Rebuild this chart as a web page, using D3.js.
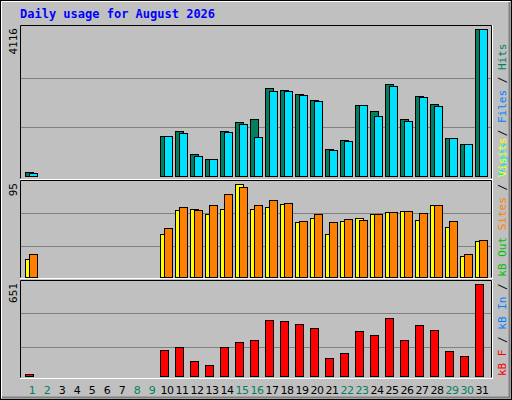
<!DOCTYPE html>
<html><head><meta charset="utf-8">
<script src="https://cdn.jsdelivr.net/npm/d3@7"></script>
<style>body{margin:0;background:#fff}svg{display:block}</style>
</head><body><svg id="c" width="512" height="400"></svg>
<script>
const days = d3.range(1, 32);
const weekend = [1,2,8,9,15,16,22,23,29,30];
const hits  = [112,0,0,0,0,0,0,0,0,1120,1260,616,476,1260,1512,1596,2464,2408,2296,2128,756,1008,1988,1820,2576,1596,2240,2016,1064,896,4116];
const files = [84,0,0,0,0,0,0,0,0,1120,1204,560,476,1222,1456,1092,2380,2380,2268,2100,728,980,1988,1680,2520,1540,2212,1960,1064,896,4116];
const visits= [18,0,0,0,0,0,0,0,0,44,68,69,64,69,95,69,72,75,56,60,44,57,60,64,66,67,58,74,51,21,37];
const sites = [24,0,0,0,0,0,0,0,0,50,71,68,74,85,92,74,79,76,57,64,56,59,58,64,66,67,65,74,57,23,38];
const kbytes= [17,0,0,0,0,0,0,0,0,181,202,103,81,202,238,252,395,387,366,338,124,160,316,288,409,252,359,323,174,145,651];

const svg = d3.select("#c");
const F = "'DejaVu Sans Mono', monospace";
// frame
svg.append("rect").attr("x",0.5).attr("y",0.5).attr("width",511).attr("height",399).attr("fill","#c0c0c0").attr("stroke","#000");
svg.append("path").attr("d","M1.5,398V1.5H510").attr("stroke","#fff").attr("fill","none");
svg.append("path").attr("d","M2,397.5H509.5V2").attr("stroke","#808080").attr("stroke-width",2).attr("fill","none");

svg.append("text").attr("x",20).attr("y",18).attr("fill","#0000ff").attr("font-family",F).attr("font-weight","bold").attr("font-size",12).text("Daily usage for August 2026");

const x = d3.scaleLinear().domain([1,31]).range([25,475]);
const panels = [
  {top:25, bot:179, base:176, ytop:29, max:4116, series:[[hits,"#008060",0],[files,"#00e0ff",4]], grids:[0.333,0.667]},
  {top:180, bot:278, base:277, ytop:184, max:95, series:[[visits,"#ffff00",0],[sites,"#ff8000",4]], grids:[0.33,0.686]},
  {top:280, bot:378, base:376, ytop:284, max:651, series:[[kbytes,"#ff0000",0]], grids:[0.32,0.68]}
];
panels.forEach(p=>{
  const y = d3.scaleLinear().domain([0,p.max]).range([p.base,p.ytop]);
  const g = svg.append("g");
  g.append("path").attr("d",`M20.5,${p.bot-0.5}V${p.top+0.5}H491.5V${p.bot-0.5}`).attr("fill","none").attr("stroke","#000");
  g.append("path").attr("d",`M20,${p.bot+0.5}H493M492.5,${p.top}V${p.bot+1}`).attr("stroke","#fff");
  p.grids.forEach(f=>{
    const gy = Math.round(y(p.max*f))+0.5;
    g.append("line").attr("x1",21).attr("x2",491).attr("y1",gy).attr("y2",gy).attr("stroke","#808080");
  });
  p.series.forEach(([vals,col,off])=>{
    g.selectAll(null).data(days.filter(d=>vals[d-1]>0)).enter().append("rect")
      .attr("x",d=>x(d)+off+0.5).attr("width",8)
      .attr("y",d=>Math.round(y(vals[d-1]))+0.5)
      .attr("height",d=>Math.max(1,p.base-Math.round(y(vals[d-1]))))
      .attr("fill",col).attr("stroke","#000");
  });
  svg.append("text").attr("transform",`translate(17,${p.top+3}) rotate(-90)`).attr("text-anchor","end")
    .attr("font-family",F).attr("font-size",11).attr("fill","#000").text(p.max);
});
// day labels
svg.selectAll(null).data(days).enter().append("text")
  .attr("x",d=>x(d)+7).attr("y",394).attr("text-anchor","middle")
  .attr("font-family","'DejaVu Sans', sans-serif").attr("font-size",11).attr("letter-spacing",-0.5)
  .attr("fill",d=>weekend.includes(d)?"#008060":"#000").text(d=>d);
// right labels
function vlab(yb, parts){
  const t = svg.append("text").attr("transform",`translate(506,${yb}) rotate(-90)`)
    .attr("font-family",F).attr("font-size",11);
  parts.forEach(([s,c])=>t.append("tspan").attr("fill",c).text(s));
}
vlab(176,[["Pages","#00e0ff"],[" / ","#000"],["Files","#0080ff"],[" / ","#000"],["Hits","#008060"]]);
vlab(376,[["kB F","#ff0000"],[" / ","#000"],["kB In","#0080ff"],[" / ","#000"],["kB Out","#00c000"],[" Sites","#ff8000"],[" / ","#000"],["Visits","#ffff00"]]);
</script></body></html>
